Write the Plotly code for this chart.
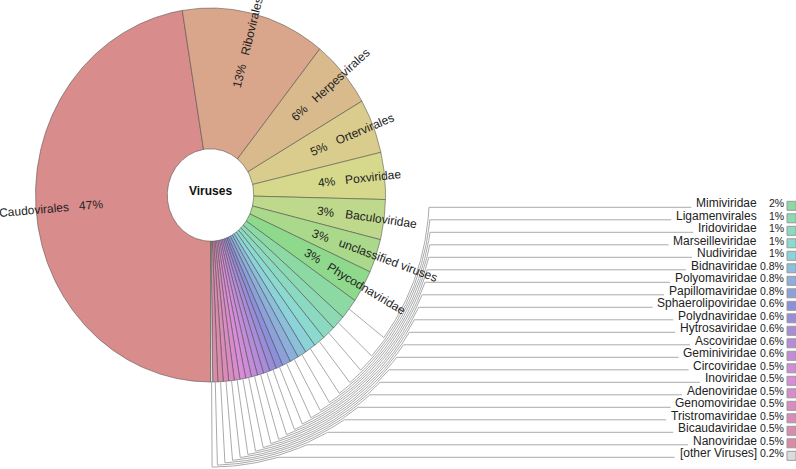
import numpy as np
import plotly.graph_objects as go

# ---------------- data ----------------
root_label = "Viruses"
names = ["Caudovirales", "Ribovirales", "Herpesvirales", "Ortervirales", "Poxviridae",
         "Baculoviridae", "unclassified viruses", "Phycodnaviridae",
         "Mimiviridae", "Ligamenvirales", "Iridoviridae", "Marseilleviridae", "Nudiviridae",
         "Bidnaviridae", "Polyomaviridae", "Papillomaviridae", "Sphaerolipoviridae",
         "Polydnaviridae", "Hytrosaviridae", "Ascoviridae", "Geminiviridae", "Circoviridae",
         "Inoviridae", "Adenoviridae", "Genomoviridae", "Tristromaviridae", "Bicaudaviridae",
         "Nanoviridae", "[other Viruses]"]
shares = [47.4, 13.3, 5.9, 4.7, 4.05, 3.45, 2.9, 2.8,
          1.8, 1.25, 1.2, 1.05, 1.0,
          0.82, 0.8, 0.77, 0.64, 0.62, 0.6, 0.58, 0.56, 0.54,
          0.53, 0.52, 0.51, 0.5, 0.49, 0.47, 0.2]
pct_text = ["47%", "13%", "6%", "5%", "4%", "3%", "3%", "3%",
            "2%", "1%", "1%", "1%", "1%",
            "0.8%", "0.8%", "0.8%", "0.6%", "0.6%", "0.6%", "0.6%", "0.6%", "0.5%",
            "0.5%", "0.5%", "0.5%", "0.5%", "0.5%", "0.5%", "0.2%"]
n_inside = 8  # wedges labelled inside the ring

# ---------------- style ----------------
hues = [0, 20, 36, 50, 62, 80, 96, 118,
        138, 150, 162, 172, 185, 200, 212, 224, 238, 250, 262, 272, 282, 292,
        300, 310, 318, 326, 334, 342, None]
colors = [("hsl(%d,50%%,70%%)" % h) if h is not None else "#dcdcdc" for h in hues]
FONT = "Liberation Sans, Arial, sans-serif"
TXT = "#222222"
W_FIG, H_FIG = 796, 469
cx_px, cy_px = 210.5, 195.0     # centre of the chart in pixels
sx, sy = 175.0, 187.0           # pixels per unit radius (horizontal / vertical)
r_in = 0.247

# Arial / Liberation Sans advance widths (per 1000 em)
AW = {' ': 278, '[': 278, ']': 278, '%': 889, '.': 278}
AW.update({d: 556 for d in "0123456789"})
AW.update(dict(A=667, B=667, C=722, D=722, E=667, F=611, G=778, H=722, I=278, J=500, K=667,
               L=556, M=833, N=722, O=778, P=667, Q=778, R=722, S=667, T=611, U=722, V=667,
               W=944, X=667, Y=667, Z=611, a=556, b=556, c=500, d=556, e=556, f=278, g=556,
               h=556, i=222, j=222, k=500, l=222, m=833, n=556, o=556, p=556, q=556, r=333,
               s=500, t=278, u=556, v=500, w=722, x=500, y=500, z=500))


def tw(s, size=12):
    return sum(AW.get(c, 556) for c in s) * size / 1000.0


frac = np.array(shares) / np.sum(shares)
edges = 180.0 + 360.0 * np.concatenate([[0.0], np.cumsum(frac)])
a0, a1 = edges[:-1], edges[1:]
mid = ((a0 + a1) / 2.0) % 360.0

fig = go.Figure()

# ---------------- wedges ----------------
for i, nm in enumerate(names):
    npts = max(3, int((a1[i] - a0[i]) * 2) + 2)
    t = np.radians(np.linspace(a0[i], a1[i], npts))
    xs = np.concatenate([np.sin(t), r_in * np.sin(t[::-1]), [np.sin(t[0])]])
    ys = np.concatenate([np.cos(t), r_in * np.cos(t[::-1]), [np.cos(t[0])]])
    fig.add_trace(go.Scatter(x=xs, y=ys, mode="lines", fill="toself",
                             fillcolor=colors[i],
                             line=dict(color="rgba(70,70,70,0.75)", width=0.7),
                             hoverinfo="skip", showlegend=False))

annotations = []

# centre label
annotations.append(dict(x=(210 - cx_px) / sx, y=(cy_px - 191) / sy, xref="x", yref="y",
                        text="<b>%s</b>" % root_label, showarrow=False,
                        font=dict(family=FONT, size=12, color="#111")))

# ---------------- inside labels (radial) ----------------
gap = 10.0
for i in range(n_inside):
    th = np.radians(mid[i])
    dx, dy = np.sin(th) * sx, np.cos(th) * sy
    L = np.hypot(dx, dy)
    ux, uy = dx / L, dy / L
    alpha = np.degrees(np.arctan2(dy, dx))
    if np.sin(th) > 0:
        ang = -alpha
        rn = 0.775
    else:
        ang = -(alpha + 180.0)
        rn = 0.81
    ang = (ang + 180) % 360 - 180
    wn, wp = tw(names[i]), tw(pct_text[i])
    s_name = rn * L + wn / 2.0
    s_pct = rn * L - gap - wp / 2.0
    for s, txt in ((s_name, names[i]), (s_pct, pct_text[i])):
        annotations.append(dict(x=s * ux / sx, y=s * uy / sy, xref="x", yref="y",
                                text=txt, showarrow=False, textangle=ang,
                                xanchor="center", yanchor="middle",
                                font=dict(family=FONT, size=12, color=TXT)))

# ---------------- outside keys with leader lines ----------------
row0_px, row_step = 207.3, 12.5
R0, R1 = 1.25, 1.455
name_right_px, pct_right_px, box_px = 758.0, 785.0, 791.5
small = list(range(n_inside, len(names)))
lx, ly = [], []
bx, by, bc = [], [], []
for k, i in enumerate(small):
    Rk = R0 + (R1 - R0) * k / (len(small) - 1)
    base_px = row0_px + row_step * k
    yk = (cy_px - base_px) / sy
    th = mid[i]
    ph = np.degrees(np.arccos(yk / Rk))
    tr = np.radians(th)
    # radial part
    lx += [np.sin(tr), Rk * np.sin(tr)]
    ly += [np.cos(tr), Rk * np.cos(tr)]
    # arc part
    arc = np.radians(np.linspace(th, ph, max(3, int(abs(th - ph) * 2) + 2)))
    lx += list(Rk * np.sin(arc))
    ly += list(Rk * np.cos(arc))
    # horizontal part
    x_end = (name_right_px - tw(names[i]) - 6 - cx_px) / sx
    lx += [x_end, None]
    ly += [yk, None]
    # texts
    annotations.append(dict(x=(name_right_px - cx_px) / sx, y=(cy_px - (base_px - 4.3)) / sy,
                            xref="x", yref="y", text=names[i], showarrow=False,
                            xanchor="right", yanchor="middle", borderpad=0,
                            font=dict(family=FONT, size=12, color=TXT)))
    annotations.append(dict(x=(pct_right_px - cx_px) / sx, y=(cy_px - (base_px - 4.3)) / sy,
                            xref="x", yref="y", text=pct_text[i], showarrow=False,
                            xanchor="right", yanchor="middle", borderpad=0,
                            font=dict(family=FONT, size=10.5, color=TXT)))
    bx.append((box_px - cx_px) / sx)
    by.append((cy_px - (base_px - 1.5)) / sy)
    bc.append(colors[i])

fig.add_trace(go.Scatter(x=lx, y=ly, mode="lines",
                         line=dict(color="#ababab", width=1),
                         hoverinfo="skip", showlegend=False))
fig.add_trace(go.Scatter(x=bx, y=by, mode="markers",
                         marker=dict(symbol="square", size=9, color=bc,
                                     line=dict(color="#9a9a9a", width=1)),
                         hoverinfo="skip", showlegend=False))

fig.update_layout(
    width=W_FIG, height=H_FIG,
    margin=dict(l=0, r=0, t=0, b=0),
    paper_bgcolor="white", plot_bgcolor="white",
    showlegend=False,
    annotations=annotations,
    xaxis=dict(range=[-cx_px / sx, (W_FIG - cx_px) / sx], visible=False, fixedrange=True),
    yaxis=dict(range=[-(H_FIG - cy_px) / sy, cy_px / sy], visible=False, fixedrange=True),
)

fig.write_html("out.html", config={"displayModeBar": False},
               post_script="document.body.style.margin='0px';document.body.style.overflow='hidden';")
